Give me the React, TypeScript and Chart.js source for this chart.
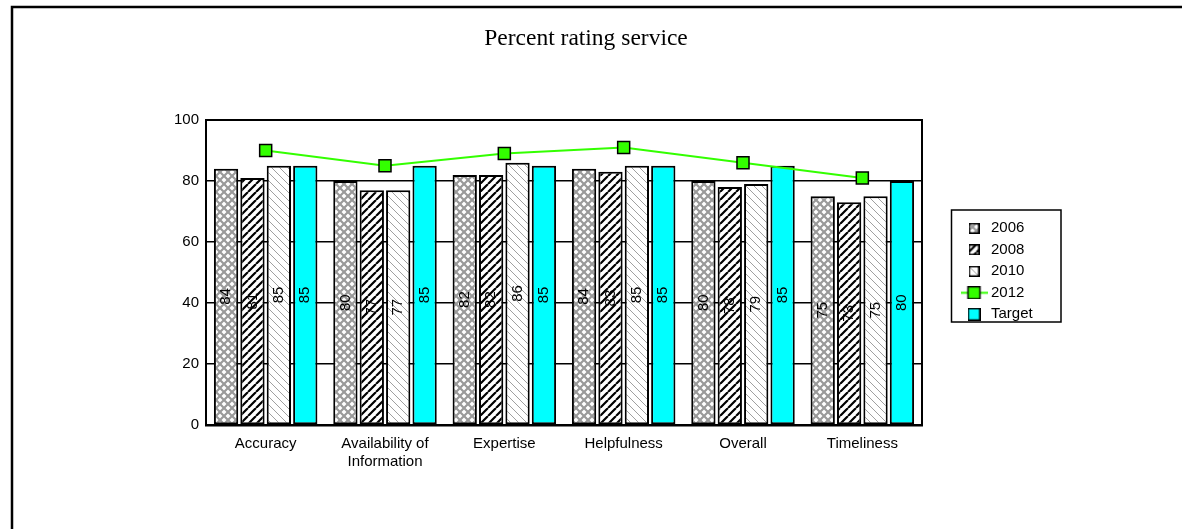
import { useEffect, useRef } from 'react';
import { Chart, registerables } from 'chart.js';

Chart.register(...registerables);

// Chart content
const TITLE = 'Percent rating service';
const CATEGORIES: (string | string[])[] = [
  'Accuracy',
  ['Availability of', 'Information'],
  'Expertise',
  'Helpfulness',
  'Overall',
  'Timeliness',
];
const SERIES_2006 = [84, 80, 82, 84, 80, 75];
const SERIES_2008 = [81, 77, 82, 83, 78, 73];
const SERIES_2010 = [85, 77, 86, 85, 79, 75];
const SERIES_2012 = [90, 85, 89, 91, 86, 81];
const TARGET = [85, 85, 85, 85, 85, 80];
const Y_TICKS = [0, 20, 40, 60, 80, 100];

const SANS = '"Liberation Sans", Arial, sans-serif';
const SERIF = '"Liberation Serif", "Times New Roman", serif';
const GREEN = '#33ff00';
const CYAN = '#00ffff';

// Hatch tiles used as bar fills
function makeTile(size: number, draw: (g: CanvasRenderingContext2D, s: number) => void) {
  const c = document.createElement('canvas');
  c.width = size;
  c.height = size;
  const g = c.getContext('2d') as CanvasRenderingContext2D;
  g.fillStyle = '#ffffff';
  g.fillRect(0, 0, size, size);
  draw(g, size);
  return c;
}

function diagonals(g: CanvasRenderingContext2D, s: number, rising: boolean) {
  g.beginPath();
  for (let k = -1; k <= 1; k++) {
    if (rising) {
      g.moveTo(k * s, s);
      g.lineTo(k * s + s, 0);
    } else {
      g.moveTo(k * s, 0);
      g.lineTo(k * s + s, s);
    }
  }
  g.stroke();
}

const crossTile = () =>
  makeTile(8, (g, s) => {
    g.strokeStyle = '#9a9a9a';
    g.lineWidth = 2.2;
    diagonals(g, s, true);
    diagonals(g, s, false);
  });

const boldSlashTile = () =>
  makeTile(8, (g, s) => {
    g.strokeStyle = '#000000';
    g.lineWidth = 2.2;
    diagonals(g, s, true);
  });

const lightBackslashTile = () =>
  makeTile(8, (g, s) => {
    g.strokeStyle = '#a0a0a0';
    g.lineWidth = 1;
    diagonals(g, s, false);
  });

function boxIcon(fill: (g: CanvasRenderingContext2D) => any, size: number) {
  const c = document.createElement('canvas');
  c.width = size;
  c.height = size;
  const g = c.getContext('2d') as CanvasRenderingContext2D;
  g.fillStyle = fill(g);
  g.fillRect(0, 0, size, size);
  g.strokeStyle = '#000';
  g.lineWidth = 1.5;
  g.strokeRect(0.75, 0.75, size - 1.5, size - 1.5);
  return c;
}

function lineIcon() {
  const c = document.createElement('canvas');
  c.width = 27;
  c.height = 13;
  const g = c.getContext('2d') as CanvasRenderingContext2D;
  g.strokeStyle = GREEN;
  g.lineWidth = 2;
  g.beginPath();
  g.moveTo(0, 6.5);
  g.lineTo(27, 6.5);
  g.stroke();
  g.fillStyle = GREEN;
  g.fillRect(7.5, 0.5, 12, 12);
  g.strokeStyle = '#000';
  g.lineWidth = 1.5;
  g.strokeRect(7.5, 0.5, 12, 12);
  return c;
}

// Legend placement, frames and in-bar value labels
const decor = {
  id: 'decor',
  beforeLayout(chart: any) {
    const lg = chart.legend;
    if (lg && !lg.__sized) {
      const fit = lg.fit.bind(lg);
      lg.fit = () => {
        fit();
        lg.width = 250;
      };
      lg.__sized = true;
    }
  },
  afterLayout(chart: any) {
    const lg = chart.legend;
    if (!lg) return;
    lg.left = 958;
    lg.right = 1120;
    lg.top = 214.3;
    lg.bottom = 214.3 + 220;
  },
  afterDatasetsDraw(chart: any) {
    const ctx = chart.ctx as CanvasRenderingContext2D;
    chart.data.datasets.forEach((ds: any, i: number) => {
      const meta = chart.getDatasetMeta(i);
      if (meta.type !== 'bar' || meta.hidden) return;
      meta.data.forEach((el: any, j: number) => {
        const { x, y, base } = el.getProps(['x', 'y', 'base'], true);
        ctx.save();
        ctx.translate(x, (y + base) / 2);
        ctx.rotate(-Math.PI / 2);
        ctx.font = `15px ${SANS}`;
        ctx.fillStyle = '#000';
        ctx.textAlign = 'center';
        ctx.textBaseline = 'middle';
        ctx.fillText(String(ds.data[j]), 0, 0);
        ctx.restore();
      });
    });
  },
  afterDraw(chart: any) {
    const ctx = chart.ctx as CanvasRenderingContext2D;
    const a = chart.chartArea;
    ctx.save();
    ctx.strokeStyle = '#000';
    // plot border
    ctx.lineWidth = 2;
    ctx.strokeRect(a.left, a.top, a.right - a.left, a.bottom - a.top);
    // legend border
    const lg = chart.legend;
    if (lg) {
      ctx.lineWidth = 1.5;
      ctx.strokeRect(lg.left - 6.5, lg.top - 4.3, 109.5, 112);
    }
    // outer frame
    ctx.lineWidth = 2.5;
    ctx.strokeRect(12, 7, 3000, 3000);
    ctx.restore();
  },
};

export default function App() {
  const canvasRef = useRef<HTMLCanvasElement | null>(null);

  useEffect(() => {
    const canvas = canvasRef.current;
    if (!canvas) return;
    const ctx = canvas.getContext('2d') as CanvasRenderingContext2D;

    const pat2006 = ctx.createPattern(crossTile(), 'repeat');
    const pat2008 = ctx.createPattern(boldSlashTile(), 'repeat');
    const pat2010 = ctx.createPattern(lightBackslashTile(), 'repeat');

    const icons: any[] = [
      boxIcon((g) => g.createPattern(crossTile(), 'repeat'), 11),
      boxIcon((g) => g.createPattern(boldSlashTile(), 'repeat'), 11),
      boxIcon((g) => g.createPattern(lightBackslashTile(), 'repeat'), 11),
      lineIcon(),
      boxIcon(() => CYAN, 13),
    ];

    const barStyle = {
      borderColor: '#000',
      borderWidth: 2,
      borderSkipped: false,
      barPercentage: 0.92,
      categoryPercentage: 0.885,
    };

    const tickFont = { family: SANS, size: 15, lineHeight: 1.25 };

    const chart = new Chart(canvas, {
      type: 'bar',
      data: {
        labels: CATEGORIES as any,
        datasets: [
          { label: '2006', data: SERIES_2006, backgroundColor: pat2006, ...barStyle } as any,
          { label: '2008', data: SERIES_2008, backgroundColor: pat2008, ...barStyle } as any,
          { label: '2010', data: SERIES_2010, backgroundColor: pat2010, ...barStyle } as any,
          {
            type: 'line',
            label: '2012',
            data: SERIES_2012,
            borderColor: GREEN,
            backgroundColor: GREEN,
            borderWidth: 2,
            fill: false,
            tension: 0,
            pointStyle: 'rect',
            pointRadius: 8.5,
            pointHoverRadius: 8.5,
            pointBackgroundColor: GREEN,
            pointBorderColor: '#000',
            pointBorderWidth: 1.5,
            order: -1,
          } as any,
          { label: 'Target', data: TARGET, backgroundColor: CYAN, ...barStyle } as any,
        ],
      },
      options: {
        responsive: true,
        maintainAspectRatio: false,
        animation: false,
        events: [],
        layout: { padding: { left: 0, right: 10, top: 0, bottom: 44 } },
        plugins: {
          title: {
            display: true,
            text: TITLE,
            color: '#000',
            font: { family: SERIF, size: 23.5, weight: 'normal', lineHeight: 1.2 },
            padding: { top: 25, bottom: 66.8 },
          },
          legend: {
            position: 'right',
            align: 'start',
            fullSize: false,
            labels: {
              usePointStyle: true,
              pointStyleWidth: 19,
              padding: 6.5,
              color: '#000',
              font: { family: SANS, size: 15 },
              generateLabels(c: any) {
                const items = (Chart.defaults.plugins.legend.labels as any).generateLabels(c);
                items.sort((p: any, q: any) => p.datasetIndex - q.datasetIndex);
                items.forEach((it: any) => {
                  it.pointStyle = icons[it.datasetIndex];
                  it.rotation = 0;
                });
                return items;
              },
            },
          },
          tooltip: { enabled: false },
        },
        scales: {
          x: {
            grid: { display: false, drawTicks: false },
            border: { display: true, color: '#000', width: 2.5 },
            ticks: {
              color: '#000',
              font: tickFont,
              padding: 9,
              maxRotation: 0,
              autoSkip: false,
            },
            afterFit: (s: any) => {
              s.height = 60;
            },
          },
          y: {
            min: 0,
            max: 100,
            grid: { color: '#000', lineWidth: 1.5, drawTicks: false },
            border: { display: true, color: '#000', width: 2 },
            ticks: { color: '#000', font: tickFont, padding: 7, stepSize: 20 },
            afterBuildTicks: (s: any) => {
              s.ticks = Y_TICKS.map((v) => ({ value: v }));
            },
            afterFit: (s: any) => {
              s.width = 206;
            },
          },
        },
      } as any,
      plugins: [decor],
    });

    return () => chart.destroy();
  }, []);

  return (
    <div
      style={{
        position: 'absolute',
        left: 0,
        top: 0,
        width: 1182,
        height: 529,
        background: '#ffffff',
      }}
    >
      <canvas ref={canvasRef} />
    </div>
  );
}
